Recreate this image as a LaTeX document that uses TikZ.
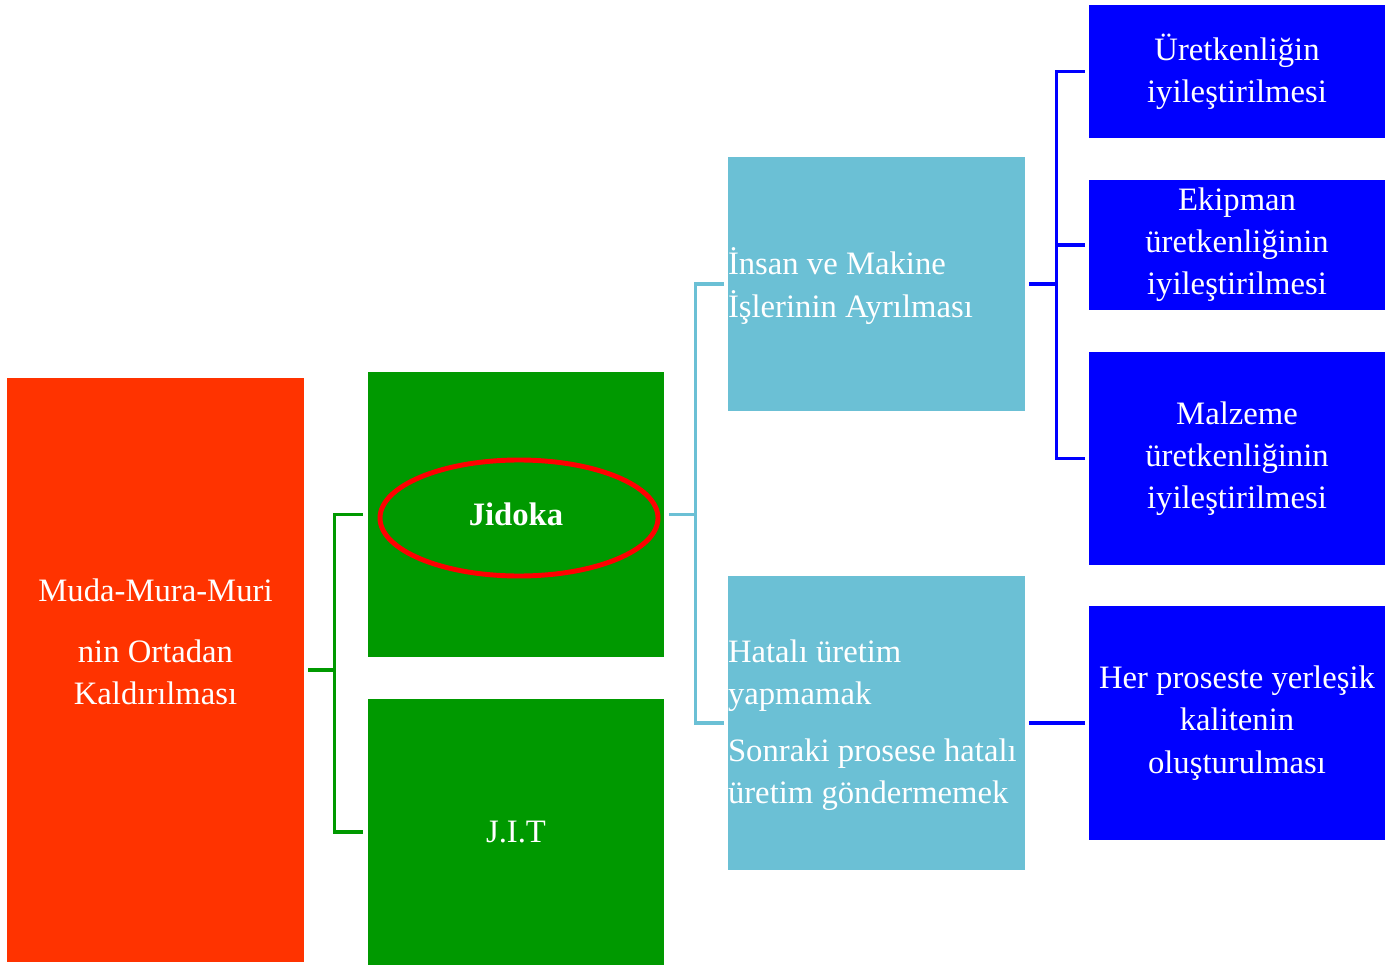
\documentclass[tikz,border=0pt]{standalone}
\usepackage{fontspec}
\setmainfont{Liberation Serif}
\usepackage{xcolor}
\definecolor{mudared}{HTML}{FF3300}
\definecolor{jgreen}{HTML}{009900}
\definecolor{skyteal}{HTML}{6BC0D5}
\definecolor{deepblue}{HTML}{0000FF}
\usetikzlibrary{shapes.geometric}

\begin{document}
\begin{tikzpicture}[
  box/.style={inner sep=0pt, text=white, align=center, font=\fontsize{18.6}{24}\selectfont},
  link/.style={line width=2pt},
]
\useasboundingbox (0,0) rectangle (27.86,19.3);
%%%%% Left box %%%%%
\node[box, fill=mudared, minimum width=5.94cm, minimum height=11.68cm] (muda) at (3.11,5.90) {};
\node[box] (mudatext) at ([yshift=0.57cm]muda.center) {Muda-Mura-Muri\\[0.38cm]nin Ortadan\\Kaldırılması};
%%%%% Green boxes %%%%%
\node[box, fill=jgreen, minimum width=5.92cm, minimum height=5.70cm] (jidoka) at (10.32,9.01) {\bfseries Jidoka};
\node[draw=red, line width=2.8pt, ellipse, minimum width=5.56cm, minimum height=2.32cm] (ring) at (10.38,8.94) {};
\node[box, fill=jgreen, minimum width=5.92cm, minimum height=5.32cm] (jit) at (10.32,2.66) {J.I.T};
%%%%% Light blue boxes %%%%%
\node[box, fill=skyteal, minimum width=5.94cm, minimum height=5.08cm] (ayrim) at (17.53,13.62) {};
\node[box, align=left, anchor=west] (ayrimtext) at ([yshift=-0.04cm]ayrim.west) {İnsan ve Makine\\İşlerinin Ayrılması};
\node[box, fill=skyteal, minimum width=5.94cm, minimum height=5.88cm] (hata) at (17.53,4.84) {};
\node[box, align=left, anchor=west] (hatatext) at ([yshift=-0.04cm]hata.west) {Hatalı üretim\\yapmamak\\[0.3cm]Sonraki prosese hatalı\\üretim göndermemek};
%%%%% Blue boxes %%%%%
\node[box, fill=deepblue, minimum width=5.92cm, minimum height=2.66cm] (verim) at (24.74,17.87) {Üretkenliğin\\iyileştirilmesi};
\node[box, fill=deepblue, minimum width=5.92cm, minimum height=2.60cm] (ekipman) at (24.74,14.40) {Ekipman\\üretkenliğinin\\iyileştirilmesi};
\node[box, fill=deepblue, minimum width=5.92cm, minimum height=4.26cm] (malzeme) at (24.74,10.13) {Malzeme\\üretkenliğinin\\iyileştirilmesi};
\node[box, fill=deepblue, minimum width=5.92cm, minimum height=4.68cm] (kalite) at (24.74,4.84) {Her proseste yerleşik\\kalitenin\\oluşturulması};
%%%%% Connectors %%%%%
\draw[link, jgreen] ([xshift=0.08cm]muda.east) -- ++(0.54,0);
\draw[link, jgreen] ([xshift=-0.1cm]jidoka.west) -- ++(-0.56,0) |- ([xshift=-0.1cm]jit.west);
\draw[link, skyteal] ([xshift=0.1cm]jidoka.east) -- ++(0.54,0);
\draw[link, skyteal] ([xshift=-0.08cm]ayrim.west) -- ++(-0.56,0) |- ([xshift=-0.08cm]hata.west);
\draw[link, deepblue] ([xshift=0.08cm]ayrim.east) -- ++(0.56,0);
\draw[link, deepblue] ([xshift=-0.08cm]verim.west) -- ++(-0.56,0) |- ([xshift=-0.08cm]malzeme.west);
\foreach \b in {ekipman}{
\draw[link, deepblue] ([xshift=-0.08cm]\b.west) -- ++(-0.56,0);
}
\draw[link, deepblue] ([xshift=0.08cm]hata.east) -- ([xshift=-0.08cm]kalite.west);
\end{tikzpicture}
\end{document}
